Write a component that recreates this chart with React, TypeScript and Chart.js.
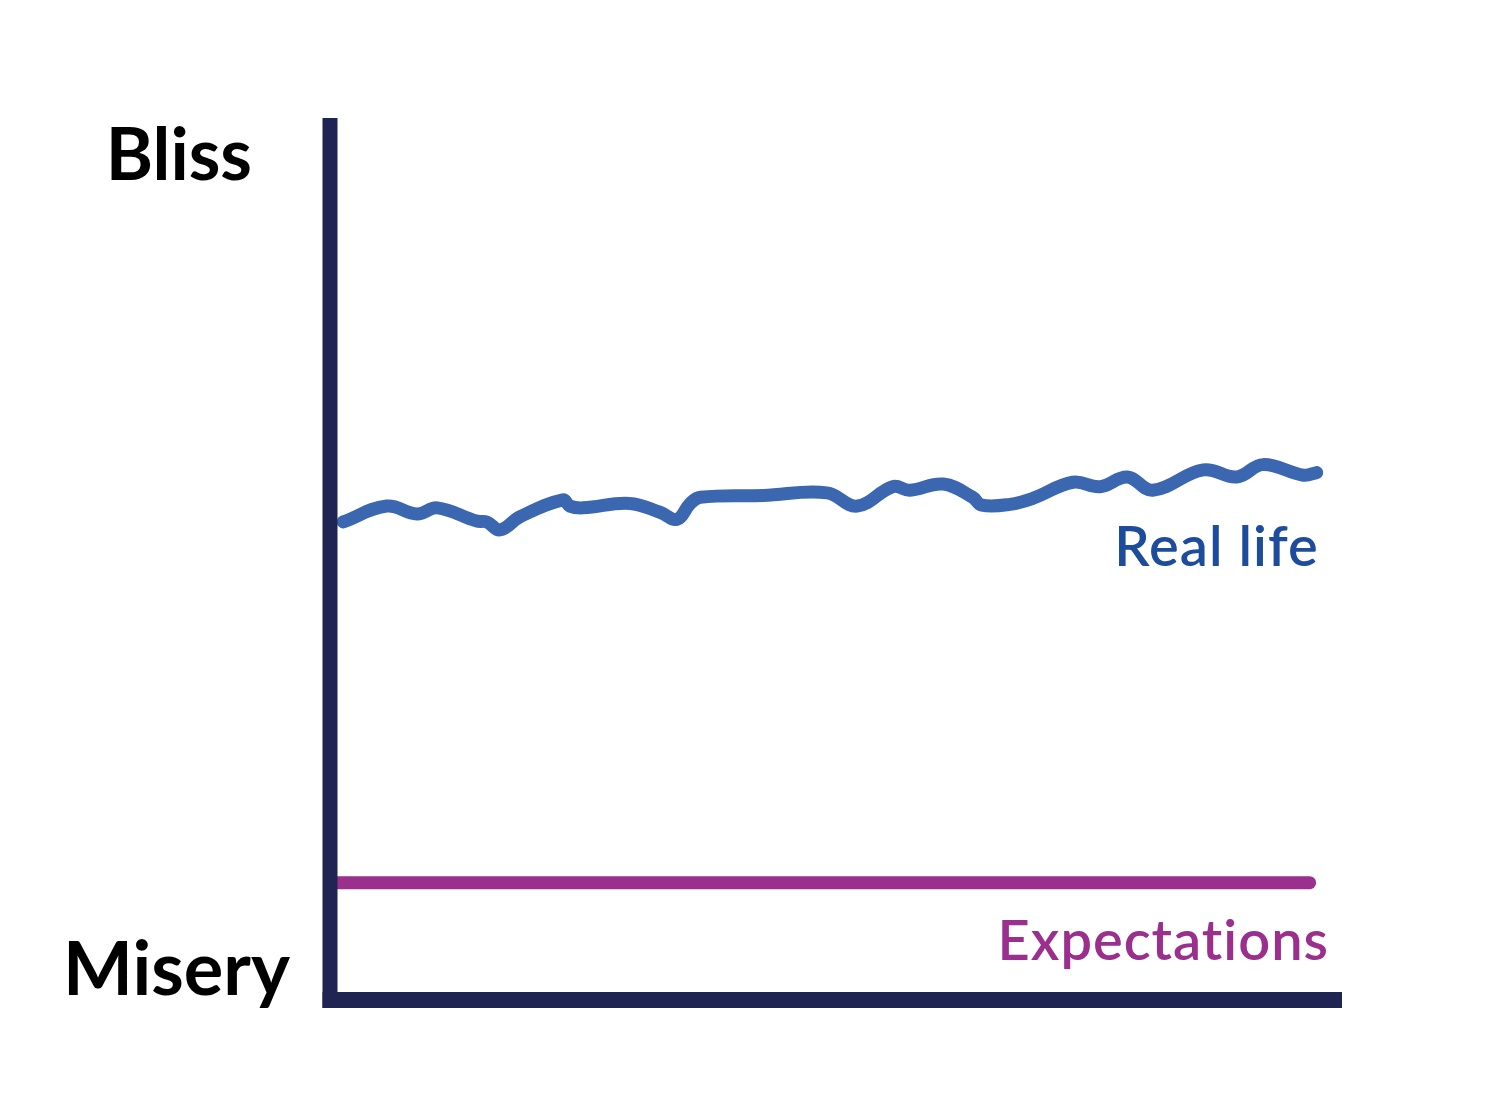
import React, { useEffect, useRef } from "react";
import { Chart, registerables } from "chart.js";

Chart.register(...registerables);

// Time (0-100) along the horizontal axis, happiness (0 = Misery, 100 = Bliss)
const realLifeX = [1.3, 5.6, 8.6, 10.6, 14.5, 15.5, 16.8, 18.8, 23.0, 23.7, 25.0, 29.6, 32.6, 34.3, 35.6, 36.6, 42.8, 49.1, 52.1, 55.6, 57.3, 60.6, 63.5, 64.4, 67.2, 69.5, 73.4, 76.1, 78.8, 81.3, 86.3, 89.6, 92.2, 96.2, 97.5];
const realLifeY = [54.2, 56.0, 55.1, 55.8, 54.3, 54.2, 53.3, 54.8, 56.7, 56.0, 55.8, 56.3, 55.3, 54.5, 56.3, 57.0, 57.2, 57.5, 56.0, 58.2, 57.8, 58.5, 57.0, 56.1, 56.2, 56.9, 58.7, 58.2, 59.3, 57.8, 60.1, 59.3, 60.7, 59.5, 59.8];
const expectationsX = [0, 96.8];
const expectationsY = [13.3, 13.3];

const yAxisLabels = ["Misery", "Bliss"];
const seriesLabels = ["Real life", "Expectations"];

const AXIS_COLOR = "#1f2452";
const REAL_COLOR = "#3b66b0";
const REAL_TEXT = "#1d4c9c";
const EXP_COLOR = "#9a2f8e";

const overlay = {
  id: "overlay",
  afterDatasetsDraw(chart: any) {
    const { ctx, chartArea } = chart;
    const { left, right, top, bottom } = chartArea;
    ctx.save();
    ctx.fillStyle = AXIS_COLOR;
    ctx.fillRect(left - 7.5, top, 15, bottom + 8 - top);
    ctx.fillRect(left - 7.5, bottom - 8, right - left + 7.5, 16);

    ctx.fillStyle = "#000000";
    ctx.textBaseline = "alphabetic";
    ctx.textAlign = "right";
    ctx.font = "bold 72px Lato";
    ctx.fillText(yAxisLabels[1], left - 78, top + 62);
    ctx.font = "bold 74px Lato";
    ctx.fillText(yAxisLabels[0], left - 40, bottom - 5);

    const xs = chart.scales.x;
    const ys = chart.scales.y;
    ctx.font = "600 56px Lato";
    (ctx as any).letterSpacing = "1px";
    ctx.fillStyle = REAL_TEXT;
    ctx.fillText(seriesLabels[0], xs.getPixelForValue(realLifeX[realLifeX.length - 1]) + 2, ys.getPixelForValue(realLifeY[realLifeY.length - 1]) + 93);
    ctx.fillStyle = EXP_COLOR;
    ctx.fillText(seriesLabels[1], right - 13, ys.getPixelForValue(expectationsY[0]) + 77);
    ctx.restore();
  },
};

export default function App() {
  const ref = useRef<HTMLCanvasElement>(null);
  useEffect(() => {
    if (!ref.current) return;
    const chart = new Chart(ref.current, {
      type: "line",
      data: {
        datasets: [
          {
            label: seriesLabels[0],
            data: realLifeX.map((x, i) => ({ x, y: realLifeY[i] })),
            borderColor: REAL_COLOR,
            borderWidth: 13,
            borderCapStyle: "round",
            borderJoinStyle: "round",
            tension: 0.4,
            pointRadius: 0,
            fill: false,
          },
          {
            label: seriesLabels[1],
            data: expectationsX.map((x, i) => ({ x, y: expectationsY[i] })),
            borderColor: EXP_COLOR,
            borderWidth: 13,
            borderCapStyle: "round",
            pointRadius: 0,
            fill: false,
          },
        ],
      },
      options: {
        animation: false,
        responsive: false,
        devicePixelRatio: 1,
        layout: { padding: { left: 330, right: 158, top: 118, bottom: 100 } },
        plugins: { legend: { display: false }, tooltip: { enabled: false } },
        scales: {
          x: { type: "linear", min: 0, max: 100, display: false },
          y: { type: "linear", min: 0, max: 100, display: false },
        },
      },
      plugins: [overlay],
    } as any);
    return () => chart.destroy();
  }, []);
  return (
    <div style={{ position: "absolute", left: 0, top: 0, width: 1500, height: 1100, background: "#fff" }}>
      <canvas ref={ref} width={1500} height={1100} style={{ width: 1500, height: 1100 }} />
    </div>
  );
}
